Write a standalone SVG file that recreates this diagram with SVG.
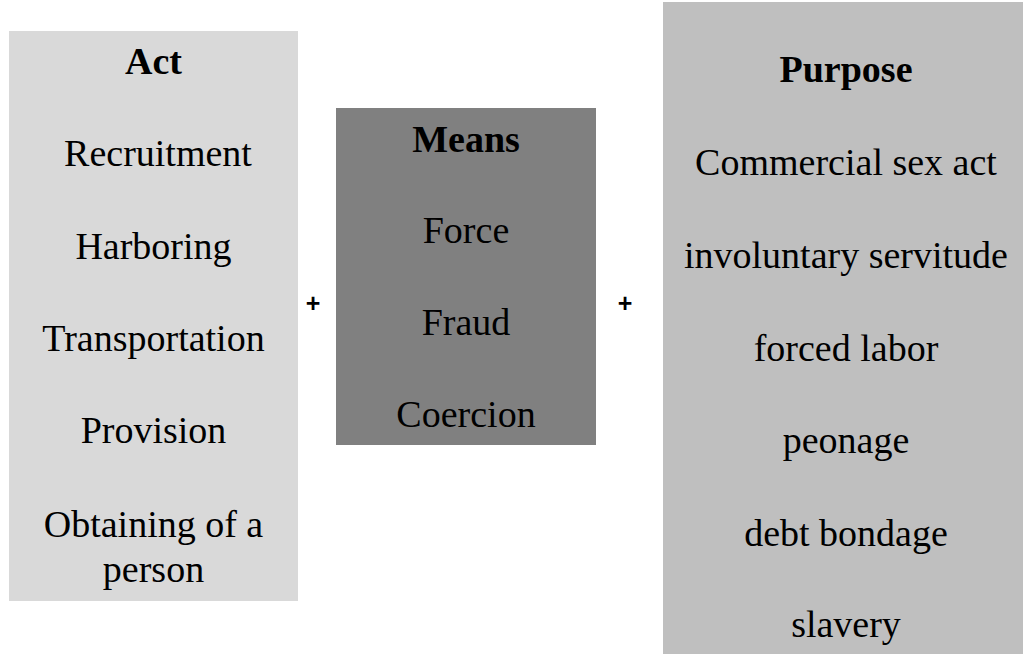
<svg xmlns="http://www.w3.org/2000/svg" width="1023" height="655" viewBox="0 0 1023 655">
<style>
.t{font-family:"Liberation Serif","Times New Roman",serif;font-size:38px;fill:#000;text-anchor:middle}
.h{font-weight:bold}
.p{font-family:"Liberation Sans",Arial,sans-serif;font-size:25px;font-weight:bold;fill:#000;text-anchor:middle}
</style>
<rect width="1023" height="655" fill="#fff"/>
<g id="act">
<rect x="9" y="31" width="289" height="570" fill="#d9d9d9"/>
<text class="t h" x="153.5" y="74">Act</text>
<text class="t" x="158" y="166">Recruitment</text>
<text class="t" x="153.5" y="259">Harboring</text>
<text class="t" x="153.5" y="351">Transportation</text>
<text class="t" x="153.5" y="443">Provision</text>
<text class="t" x="153.5" y="537">Obtaining of a</text>
<text class="t" x="153.5" y="582">person</text>
</g>
<g id="means">
<rect x="336" y="108" width="260" height="337" fill="#808080"/>
<text class="t h" x="466" y="152">Means</text>
<text class="t" x="466" y="243">Force</text>
<text class="t" x="466" y="335">Fraud</text>
<text class="t" x="466" y="427">Coercion</text>
</g>
<g id="purpose">
<rect x="663" y="2" width="360" height="652" fill="#bfbfbf"/>
<text class="t h" x="846" y="82">Purpose</text>
<text class="t" x="846" y="175">Commercial sex act</text>
<text class="t" x="846" y="268">involuntary servitude</text>
<text class="t" x="846" y="361">forced labor</text>
<text class="t" x="846" y="453">peonage</text>
<text class="t" x="846" y="546">debt bondage</text>
<text class="t" x="846" y="637">slavery</text>
</g>
<g id="connectors">
<text class="p" x="313" y="312">+</text>
<text class="p" x="625" y="312">+</text>
</g>
</svg>
